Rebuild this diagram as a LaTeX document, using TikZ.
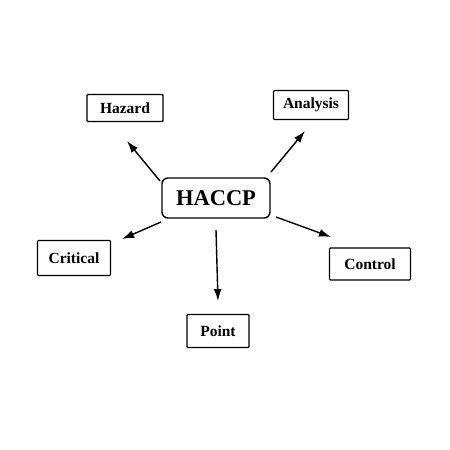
\documentclass[tikz,border=0pt]{standalone}
\usepackage{fontspec}
\setmainfont{Liberation Serif}
\usetikzlibrary{arrows.meta}
\begin{document}
\begin{tikzpicture}[x=1pt,y=-1pt,
  box/.style={draw=black,line width=1.4pt,fill=white,inner sep=0pt,font=\bfseries\fontsize{15.5}{15.5}\selectfont,rounded corners=1pt},
  arr/.style={-{Latex[length=12pt,width=8pt]},line width=1.4pt}]
\useasboundingbox (0,0) rectangle (450,450);
\node[box,minimum width=76pt,minimum height=27pt] (hz) at (125,108) {Hazard};
\node[box,minimum width=75pt,minimum height=29pt] (an) at (311,105) {Analysis};
\node[box,minimum width=108pt,minimum height=40pt,rounded corners=6pt,font=\bfseries\fontsize{22.5}{22.5}\selectfont] (ha) at (216,198) {HACCP};
\node[box,minimum width=73pt,minimum height=35pt] (cr) at (74,258) {Critical};
\node[box,minimum width=81pt,minimum height=32pt] (co) at (370,264) {Control};
\node[box,minimum width=62pt,minimum height=33pt] (pt) at (218,331) {Point};
\coordinate (a1) at (160,181); \coordinate (b1) at (127,141);
\coordinate (a2) at (271,172); \coordinate (b2) at (305,131);
\coordinate (a3) at (161,222); \coordinate (b3) at (122,239);
\coordinate (a4) at (276,217); \coordinate (b4) at (331,237);
\coordinate (a5) at (216,230); \coordinate (b5) at (218,301);
\draw[arr] (a1) -- (b1);
\draw[arr] (a2) -- (b2);
\draw[arr] (a3) -- (b3);
\draw[arr] (a4) -- (b4);
\draw[arr] (a5) -- (b5);
\end{tikzpicture}
\end{document}
